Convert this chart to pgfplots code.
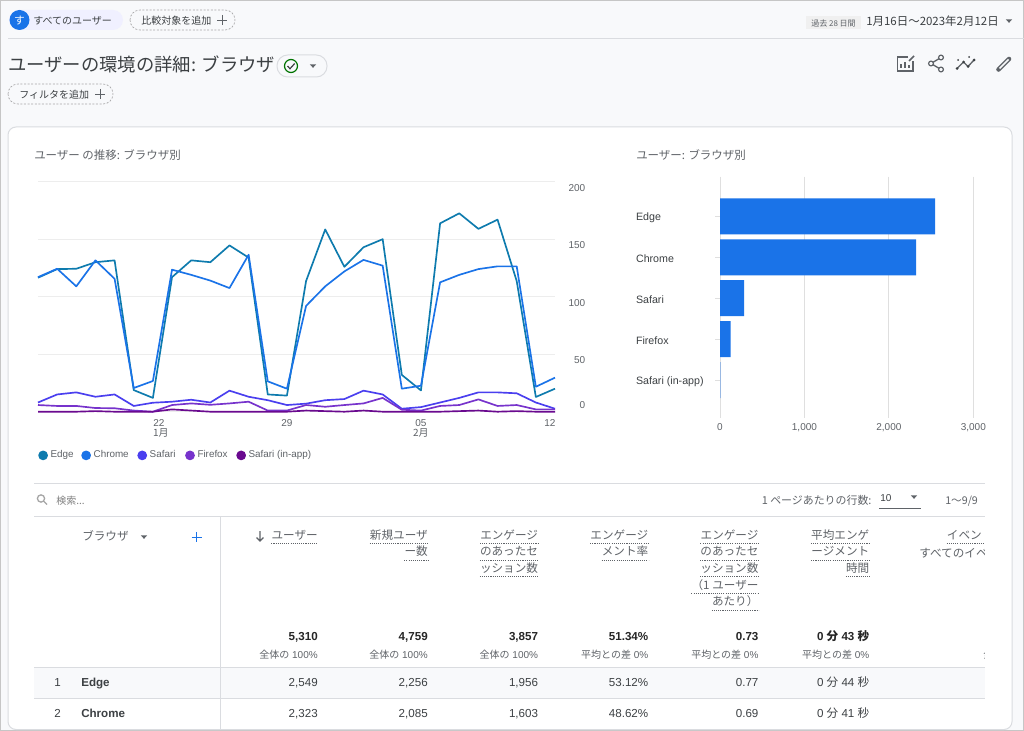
\documentclass[border=0pt]{standalone}
\usepackage{fontspec}
\setmainfont{Liberation Sans}
\newfontfamily\cjk{Noto Sans CJK JP}
\usepackage{pgfplots}
\usepackage{pgfplotstable}
\pgfplotsset{compat=1.18}
\definecolor{cedge}{HTML}{0E7BAE}
\definecolor{cchrome}{HTML}{1A73E8}
\definecolor{csafari}{HTML}{4A3FEF}
\definecolor{cfirefox}{HTML}{7733CC}
\definecolor{cinapp}{HTML}{6A0A8F}
\definecolor{gt}{HTML}{5F6368}
\definecolor{dt}{HTML}{3C4043}
\definecolor{ln}{HTML}{DADCE0}
\definecolor{pg}{HTML}{F8F9FB}
\definecolor{gridc}{HTML}{EDEDED}
\pgfplotstableread{
i edge chrome safari firefox inapp
0 116.5 117 8 5.8 0
1 124 124.3 15 5 0
2 124.3 109 16.8 5 0
3 130 131.6 13 3.2 0.5
4 131.6 115.6 15 3 0
5 18.8 20.6 5 1 0
6 12 26.7 7.8 0 0
7 117 123.5 8.7 5.8 2
8 131.6 119 10.4 7.2 1
9 130 114 8 6 0
10 144.6 107.5 18.3 7.2 0
11 134 136.5 13 8.7 0
12 15 26.4 10 1 0
13 14 20 5.8 1 0
14 113.6 92 7 5.8 1
15 158.5 109 10 4.3 0.5
16 126 122 11 5.8 0
17 143 132 18.3 7.2 1
18 150 127 15 12 0
19 32 20 2.6 1.7 0
20 18.5 22.6 4 1 0
21 163.8 112.5 8 5 0
22 172.5 119 12 5.8 0.5
23 159 124 16.8 10.7 1
24 167 126.4 16.8 5 0
25 113.6 126.4 16 5.8 0.5
26 12.8 21.7 8 2 0
27 20 29.6 2.6 2 0
}\lines
\pgfplotstableread{
y users
0 2549
1 2323
2 285
3 127
4 5
}\bars
\newcommand\fs[1]{\fontsize{#1}{#1}\selectfont}
\newcommand\lab[4]{\makebox[0pt]{\kern#1pt #3}\\\makebox[0pt]{\kern#2pt{\cjk #4}}}
\tikzset{
 w/.style={anchor=mid west,inner sep=0pt},
 e/.style={anchor=mid east,inner sep=0pt},
 c/.style={anchor=mid,inner sep=0pt},
 dashpill/.style={draw=gray!70,line width=.5pt,dash pattern=on 1.5pt off 1.2pt,rounded corners=7.5pt},
}
\newcommand\hd[4]{\node[e,name=hh,text=gt,font=\cjk\fs{8.7}] at (#1,#2) {#3};
 \draw[gt,line width=.5pt,dash pattern=on .8pt off .8pt] (hh.west |- 0,#4) -- (#1,#4);}
\newcommand\col[6]{%
 \node[e,text=black!85,font=\bfseries\fs{8.7}] at (#1,636.5) {#2};
 \node[e,text=gt,font=\fs{7.5}] at (#1,654.5) {#3};
 \node[e,text=dt,font=\fs{8.7}] at (#1,683) {#4};
 \node[e,text=dt,font=\fs{8.7}] at (#1,714) {#5};}
\newcommand\trix[2]{\fill[gt] (#1-3.2,#2-1.6) -- (#1+3.2,#2-1.6) -- (#1,#2+1.8) -- cycle;}
\newcommand\plusx[3][gt]{\draw[#1,line width=.65pt] (#2-5,#3) -- (#2+5,#3) (#2,#3-5) -- (#2,#3+5);}
\begin{document}
\begin{tikzpicture}[x=0.75pt,y=-0.75pt]
\useasboundingbox (0,0) rectangle (1024,731);
\fill[pg] (0,0) rectangle (1024,731);
\draw[gray!45,line width=.75pt] (.5,.5) rectangle (1023.5,730.5);
% top bar
\fill[blue!6] (9,10) [rounded corners=7.5pt] rectangle (123,30);
\fill[cchrome] (19.5,20) circle (10);
\node[c,text=white,font=\cjk\fs{8}] at (19.5,20.5) {す};
\node[w,text=dt,font=\cjk\fs{7.5}] at (33,20.5) {すべてのユーザー};
\draw[dashpill] (130,10) rectangle (235,30);
\node[w,text=dt,font=\cjk\fs{7.5}] at (141,20.5) {比較対象を追加};
\plusx{222}{20}
\draw[ln,line width=.75pt] (8,39) -- (1024,39);
\fill[gray!12] (806,16) rectangle (861,29);
\node[c,text=gt,font=\cjk\fs{6}] at (833.5,22.5) {過去 28 日間};
\node[w,text=dt,font=\cjk\fs{8.6}] at (866,22) {1月16日〜2023年2月12日};
\trix{1009}{21}
% title
\node[w,text=dt,font=\cjk\fs{13.75}] at (8,67.5) {ユーザーの環境の詳細: ブラウザ};
\draw[ln,line width=.75pt,rounded corners=8pt] (277,55) rectangle (327,77);
\draw[green!45!black,line width=.9pt] (291,66) circle (6.5);
\draw[dt,line width=.9pt] (287.5,66) -- (290,68.7) -- (294.7,63.5);
\trix{313}{66}
\draw[dashpill] (8,84) rectangle (113,104);
\node[w,text=dt,font=\cjk\fs{7.5}] at (19,94.5) {フィルタを追加};
\plusx{100}{94}
% icons
\draw[gt,line width=1pt] (908,57) -- (897.5,57) -- (897.5,71) -- (913,71) -- (913,61);
\draw[gt,line width=1pt] (901,68) -- (901,64) (905,68) -- (905,62) (909,68) -- (909,65);
\draw[gt,line width=1.2pt] (909,61) -- (914,56);
\draw[gt,line width=1pt] (941,57.5) -- (931,63.5) -- (941,69.5);
\foreach \p in {(931,63.5),(941,57.5),(941,69.5)} \filldraw[fill=pg,draw=gt,line width=.9pt] \p circle (2.4);
\draw[gt,line width=1pt] (957,68.5) -- (963.5,62) -- (968,66.5) -- (974,60);
\foreach \p in {(957,68.5),(963.5,62),(968,66.5),(974,60)} \fill[dt] \p circle (1.5);
\fill[dt] (958,60) circle (1) (969,57) circle (1);
\draw[gt,line width=3.4pt,line cap=round] (998.5,69.5) -- (1009,59);
\draw[pg,line width=1.1pt] (999.5,68.5) -- (1008.5,59.5);
% card
\filldraw[fill=white,draw=ln,line width=.75pt,rounded corners=6pt] (8,127) -- (1012,127) -- (1012,729.5) -- (8,729.5) -- cycle;
\node[w,text=gt,font=\cjk\fs{8.6}] at (34,156) {ユーザー の推移: ブラウザ別};
\node[w,text=gt,font=\cjk\fs{8.6}] at (636,156) {ユーザー: ブラウザ別};
% line chart
\begin{axis}[
 at={(28.5pt,-308.775pt)},anchor=south west,scale only axis,
 width=387.75pt,height=172.5pt,
 xmin=0,xmax=27,ymin=0,ymax=200,clip=false,
 axis line style={draw=none},major tick length=0pt,
 ytick={50,100,150,200},extra y ticks={0},
 extra y tick style={ymajorgrids=true,yticklabel style={yshift=9.5pt}},
 ymajorgrids,grid style={gridc,line width=.8pt},
 yticklabel pos=right,
 yticklabel style={anchor=east,xshift=26.25pt,yshift=-4.6pt,text=gt,font=\fs{7.5}},
 /pgf/number format/assume math mode=true,
 xtick={6,13,20,27},
 xticklabels={{\lab{9}{12}{22}{1月}},{\lab{0}{0}{29}{}},{\lab{0}{0}{05}{2月}},{\lab{-7.5}{0}{12}{}}},
 xticklabel style={align=center,text=gt,font=\fs{7.5},yshift=-2pt},
 legend columns=5,
 legend cell align=left,
 legend style={at={(axis description cs:0,-0.19)},anchor=west,draw=none,fill=none,inner sep=0pt,font=\fs{7.4},text=gt,
  /tikz/column 2/.style={column sep=3.75pt},/tikz/column 4/.style={column sep=4.5pt},
  /tikz/column 6/.style={column sep=5.25pt},/tikz/column 8/.style={column sep=4.5pt}},
 legend image code/.code={\fill[#1] (3pt,0pt) circle (3pt);},
 every axis plot/.append style={line width=1.25pt,no markers,line join=round},
]
\addplot[cedge] table[x=i,y=edge]{\lines};
\addplot[cchrome] table[x=i,y=chrome]{\lines};
\addplot[csafari] table[x=i,y=safari]{\lines};
\addplot[cfirefox] table[x=i,y=firefox]{\lines};
\addplot[cinapp] table[x=i,y=inapp]{\lines};
\legend{Edge,Chrome,Safari,Firefox,Safari (in-app)}
\end{axis}
% bar chart
\begin{axis}[
 at={(540pt,-313.725pt)},anchor=south west,scale only axis,
 width=189.98pt,height=181.2pt,
 xmin=0,xmax=3000,ymin=-0.966,ymax=4.93,y dir=reverse,clip=false,
 axis line style={draw=none},
 xtick={0,1000,2000,3000},xmajorgrids,grid style={gray!25,line width=.75pt},
 ytick={0,1,2,3,4},yticklabels={Edge,Chrome,Safari,Firefox,Safari (in-app)},
 ytick pos=left,xtick pos=bottom,
 tick align=outside,major tick length=3.75pt,
 x tick style={draw=none},y tick style={gray!25,line width=.75pt},
 yticklabel style={anchor=west,xshift=-62.75pt,yshift=-1pt,text=dt,font=\fs{8}},
 xticklabel style={text=gt,font=\fs{7.5},yshift=3.5pt},
 /pgf/number format/assume math mode=true,
 /pgf/number format/1000 sep={,},scaled x ticks=false,
]
\addplot[xbar,bar width=27pt,bar shift=0pt,fill=cchrome,draw=none] table[x=users,y=y]{\bars};
\end{axis}
% table
\draw[ln,line width=.75pt] (34,483.5) -- (985,483.5);
\draw[ln,line width=.75pt] (34,516) -- (985,516);
\draw[gray!70,line width=1pt] (41,498.5) circle (3.6) (43.7,501.2) -- (47,504.5);
\node[w,text=gray,font=\cjk\fs{7.5}] at (56,500.5) {検索...};
\node[w,text=gt,font=\cjk\fs{8.2}] at (761.5,500.5) {1 ページあたりの行数:};
\node[w,text=dt,font=\fs{7.5}] at (880,498) {10};
\trix{914}{497}
\draw[gt,line width=.5pt] (879,508.5) -- (921,508.5);
\node[w,text=gt,font=\cjk\fs{8}] at (945,500.5) {1〜9/9};
\fill[pg] (34,668) rectangle (985,698);
\draw[ln,line width=.75pt] (34,667.7) -- (985,667.7) (34,698.7) -- (985,698.7) (34,729) -- (985,729);
\draw[ln,line width=.75pt] (220.5,516) -- (220.5,729);
\node[w,text=gt,font=\cjk\fs{8.7}] at (82,536.5) {ブラウザ};
\trix{144}{537}
\plusx[cchrome]{196.5}{537}
\draw[gt,line width=.9pt] (260,531) -- (260,541) (256.5,537.5) -- (260,541) -- (263.5,537.5);
\hd{318}{535.7}{ユーザー}{543.3}
\hd{428}{535.7}{新規ユーザ}{543.3}
\hd{428}{552.4}{ー数}{560}
\hd{538.3}{535.7}{エンゲージ}{543.3}
\hd{538.3}{552.4}{のあったセ}{560}
\hd{538.3}{569}{ッション数}{576.7}
\hd{648.5}{535.7}{エンゲージ}{543.3}
\hd{648.5}{552.4}{メント率}{560}
\hd{758.7}{535.7}{エンゲージ}{543.3}
\hd{758.7}{552.4}{のあったセ}{560}
\hd{758.7}{569}{ッション数}{576.7}
\hd{758.7}{585.7}{（1 ユーザー}{593.3}
\hd{758.7}{602.4}{あたり）}{610}
\hd{869.5}{535.7}{平均エンゲ}{543.3}
\hd{869.5}{552.4}{ージメント}{560}
\hd{869.5}{569}{時間}{576.7}
\begin{scope}
\clip (34,516) rectangle (984.5,730);
\node[w,text=gt,font=\cjk\fs{8.7}] at (946.7,535.7) {イベント数};
\draw[gt,line width=.5pt,dash pattern=on .8pt off .8pt] (946.7,543.3) -- (1006,543.3);
\node[w,text=gt,font=\cjk\fs{8.7}] at (919,553.7) {すべてのイベント};
\node[w,text=gt,font=\cjk\fs{7.5}] at (983,654.5) {全体の 100\%};
\end{scope}
\col{318}{5,310}{{\cjk 全体の} 100\%}{2,549}{2,323}{}
\col{428}{4,759}{{\cjk 全体の} 100\%}{2,256}{2,085}{}
\col{538.3}{3,857}{{\cjk 全体の} 100\%}{1,956}{1,603}{}
\col{648.5}{51.34\%}{{\cjk 平均との差} 0\%}{53.12\%}{48.62\%}{}
\col{758.7}{0.73}{{\cjk 平均との差} 0\%}{0.77}{0.69}{}
\col{869.5}{0 {\cjk\bfseries 分} 43 {\cjk\bfseries 秒}}{{\cjk 平均との差} 0\%}{0 {\cjk 分} 44 {\cjk 秒}}{0 {\cjk 分} 41 {\cjk 秒}}{}
\node[c,text=dt,font=\fs{8.7}] at (57.5,683) {1};
\node[c,text=dt,font=\fs{8.7}] at (57.5,714) {2};
\node[w,text=dt,font=\bfseries\fs{8.7}] at (81,683) {Edge};
\node[w,text=dt,font=\bfseries\fs{8.7}] at (81,714) {Chrome};
\end{tikzpicture}
\end{document}
